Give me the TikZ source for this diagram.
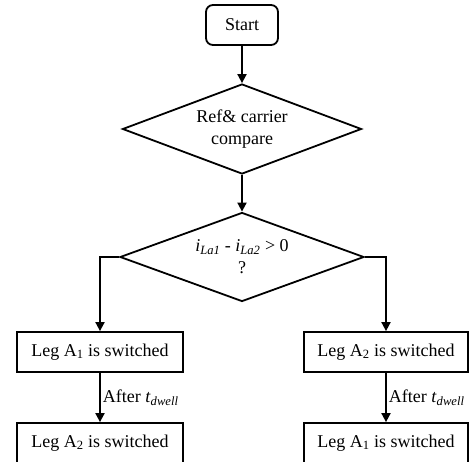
\documentclass[tikz,border=0pt]{standalone}
\usepackage{fontspec}
\setmainfont{Liberation Serif}
\usetikzlibrary{shapes.geometric,arrows.meta}
\begin{document}
\begin{tikzpicture}[x=1pt,y=-1pt,
  every node/.style={font=\fontsize{18}{22}\selectfont},
  arr/.style={-{Triangle[length=9pt,width=9pt]}, line width=1.8pt},
  procbox/.style={draw, line width=1.8pt, rectangle, minimum width=166pt, minimum height=40pt, inner sep=2pt},
  decbox/.style={draw, line width=1.8pt, diamond, aspect=2.65, inner sep=0pt, align=center},
  lbl/.style={anchor=west, inner sep=2pt}
]
\useasboundingbox (0,0) rectangle (470,461);
\node[draw, line width=1.8pt, rounded corners=7pt, minimum width=72pt, minimum height=40pt] (start) at (242,25) {Start};
\node[decbox, minimum width=239pt, minimum height=90pt] (d1) at (242,129) {Ref\& carrier\\compare};
\node[decbox, minimum width=244pt, minimum height=89pt] (d2) at (242,257) {\textit{i}\textsubscript{\textit{La1}} - \textit{i}\textsubscript{\textit{La2}} > 0\\?};
\node[procbox] (b1) at (100,352) {Leg A\textsubscript{1} is switched};
\node[procbox, minimum width=164pt] (b2) at (386,352) {Leg A\textsubscript{2} is switched};
\node[procbox] (b3) at (100,443) {Leg A\textsubscript{2} is switched};
\node[procbox, minimum width=164pt] (b4) at (386,443) {Leg A\textsubscript{1} is switched};
\draw[arr] (start.south) -- (d1.north);
\draw[arr] (d1.south) -- (d2.north);
\draw[arr] (d2.west) -| (b1.north);
\draw[arr] (d2.east) -| (b2.north);
\draw[arr] (b1.south) -- node[lbl] (l1) {After \textit{t}\textsubscript{\textit{dwell}}} (b3.north);
\draw[arr] (b2.south) -- node[lbl] (l2) {After \textit{t}\textsubscript{\textit{dwell}}} (b4.north);
\end{tikzpicture}
\end{document}
